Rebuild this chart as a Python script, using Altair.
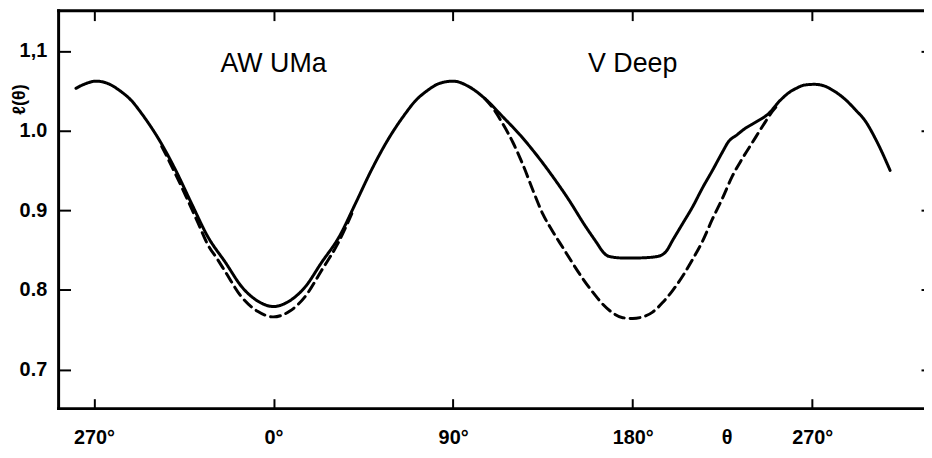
import altair as alt
import pandas as pd

# ---- data ----
solid_theta = [-99, -94, -89, -83, -77, -71, -66, -57, -49, -41,
               -33, -24, -16, -8, 0, 8, 16, 24, 33, 41,
               49, 57, 66, 71, 77, 83, 90, 98, 106, 115,
               123, 131, 140, 148, 156, 162, 165, 168, 175, 182,
               190, 194, 197, 200, 205, 210, 215, 220, 225, 228,
               232, 236, 242, 248, 254, 258, 262, 266, 271, 276,
               280, 287, 292, 296, 302, 309]
solid_value = [1.053, 1.059, 1.062, 1.059, 1.050, 1.037, 1.021, 0.987, 0.950, 0.908,
               0.867, 0.834, 0.804, 0.786, 0.779, 0.786, 0.804, 0.834, 0.867, 0.908,
               0.950, 0.987, 1.021, 1.037, 1.050, 1.059, 1.062, 1.055, 1.040, 1.017,
               0.996, 0.972, 0.942, 0.913, 0.881, 0.859, 0.848, 0.842, 0.840, 0.840,
               0.841, 0.843, 0.849, 0.862, 0.883, 0.904, 0.928, 0.950, 0.973, 0.986,
               0.994, 1.002, 1.011, 1.021, 1.038, 1.047, 1.053, 1.057, 1.058, 1.056,
               1.051, 1.038, 1.025, 1.014, 0.988, 0.950]

dash_aw_theta = [-56, -50, -44, -38, -33, -28, -24, -16, -8, 0, 8, 16, 24, 32, 40]
dash_aw_value = [0.980, 0.950, 0.918, 0.885, 0.857, 0.838, 0.822, 0.791, 0.773, 0.766,
                 0.773, 0.792, 0.824, 0.857, 0.900]

dash_vd_theta = [106, 110, 115, 120, 125, 130, 135, 140, 145, 150, 155, 160, 165, 170, 175,
                 180, 185, 190, 195, 200, 205, 210, 215, 220, 225, 230, 235, 240, 245, 250, 253]
dash_vd_value = [1.040, 1.028, 1.008, 0.985, 0.957, 0.925, 0.895, 0.873, 0.853, 0.833,
                 0.814, 0.797, 0.782, 0.771, 0.765, 0.764, 0.766, 0.772, 0.784, 0.799,
                 0.817, 0.838, 0.861, 0.889, 0.915, 0.943, 0.965, 0.985, 1.005, 1.024, 1.033]

x_ticks = [-90, 0, 90, 180, 270]
y_ticks = [0.7, 0.8, 0.9, 1.0, 1.1]

star_names = ["AW UMa", "V Deep"]
star_theta = [0, 180]
star_value = [1.074, 1.074]

# ---- tables ----
rows = []
for t, v in zip(solid_theta, solid_value):
    rows.append({"theta": t, "value": v, "curve": "solid", "style": "solid"})
for t, v in zip(dash_aw_theta, dash_aw_value):
    rows.append({"theta": t, "value": v, "curve": "dash_aw", "style": "dashed"})
for t, v in zip(dash_vd_theta, dash_vd_value):
    rows.append({"theta": t, "value": v, "curve": "dash_vd", "style": "dashed"})
lines_df = pd.DataFrame(rows)
labels_df = pd.DataFrame({"theta": star_theta, "value": star_value, "name": star_names})

W, H = 872, 401
FONT = "Liberation Sans"

xscale = alt.Scale(domain=[-107.7, 326.0], nice=False, zero=False)
yscale = alt.Scale(domain=[0.6508, 1.1505], nice=False, zero=False)

bottom_axis = alt.Axis(
    orient="bottom", values=x_ticks,
    labelExpr="(datum.value < 0 ? datum.value + 360 : datum.value) + '°'",
    offset=-10, domain=False, grid=False,
    tickSize=10, tickWidth=2, tickColor="black",
    labelFont=FONT, labelFontSize=20, labelFontWeight="bold", labelColor="black",
    labelPadding=29, labelBaseline="middle", labelFlush=False,
    title="θ", titleFont=FONT, titleFontSize=20, titleFontWeight="bold", titleColor="black",
    titleX=673, titleY=39, titleAlign="center", titleBaseline="middle", titleAnchor="start",
)
left_axis = alt.Axis(
    orient="left", values=y_ticks,
    labelExpr="datum.value > 1.05 ? '1,1' : format(datum.value, '.1f')",
    offset=-12, domain=False, grid=False,
    tickSize=12, tickWidth=2, tickColor="black",
    labelFont=FONT, labelFontSize=20, labelFontWeight="bold", labelColor="black",
    labelPadding=12, labelFlush=False,
    title="ℓ(θ)", titleFont=FONT, titleFontSize=18, titleFontWeight="bold", titleColor="black",
    titleX=-51, titleY=89, titleAngle=270, titleAlign="center", titleBaseline="middle",
)
top_axis = alt.Axis(
    orient="top", values=x_ticks, labels=False, domain=False, grid=False,
    offset=-10, tickSize=10, tickWidth=2, tickColor="black", title="",
)
right_axis = alt.Axis(
    orient="right", values=y_ticks, labels=False, domain=False, grid=False,
    offset=-3, tickSize=3, tickWidth=2, tickColor="black", title="",
)

curves = alt.Chart(lines_df).mark_line(
    color="black", strokeWidth=3, interpolate="monotone", strokeCap="round"
).encode(
    x=alt.X("theta:Q", scale=xscale, axis=bottom_axis),
    y=alt.Y("value:Q", scale=yscale, axis=left_axis),
    detail="curve:N",
    strokeDash=alt.StrokeDash(
        "style:N",
        scale=alt.Scale(domain=["solid", "dashed"], range=[[1, 0], [10, 6]]),
        legend=None,
    ),
)

ticks_other = alt.Chart(lines_df).mark_line(opacity=0).encode(
    x=alt.X("theta:Q", scale=xscale, axis=top_axis),
    y=alt.Y("value:Q", scale=yscale, axis=right_axis),
    detail="curve:N",
)

names = alt.Chart(labels_df).mark_text(
    font=FONT, fontSize=27, color="black", align="center", baseline="alphabetic"
).encode(
    x=alt.X("theta:Q", scale=xscale, axis=None),
    y=alt.Y("value:Q", scale=yscale, axis=None),
    text="name:N",
)

one = pd.DataFrame({"k": [0]})
frame_left = alt.Chart(one).mark_rule(color="black", strokeWidth=3, strokeCap="square").encode(
    x=alt.value(0), y=alt.value(0), y2=alt.value(H))
frame_top = alt.Chart(one).mark_rule(color="black", strokeWidth=3, strokeCap="square").encode(
    x=alt.value(0), x2=alt.value(W), y=alt.value(0))
frame_bottom = alt.Chart(one).mark_rule(color="black", strokeWidth=3, strokeCap="square").encode(
    x=alt.value(0), x2=alt.value(W), y=alt.value(H))

chart = alt.layer(
    frame_left, frame_top, frame_bottom, curves, ticks_other, names
).resolve_axis(
    x="independent", y="independent"
).properties(
    width=W, height=H,
    autosize=alt.AutoSizeParams(type="none"),
    padding={"left": 51, "top": 1, "right": 0, "bottom": 40},
    background="white",
).configure_view(stroke=None)

chart.save("out.html", embed_options={"renderer": "svg", "actions": False})
